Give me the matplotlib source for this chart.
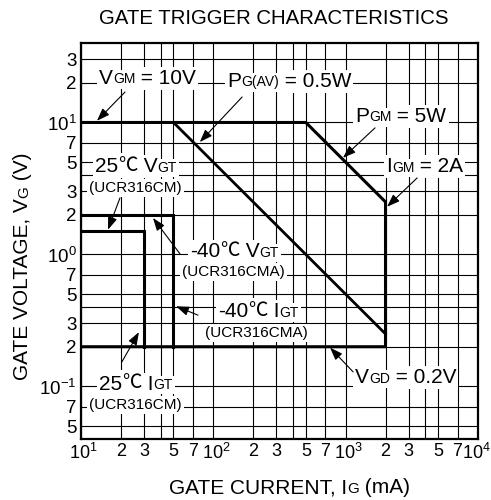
import matplotlib
matplotlib.use('Agg')
import matplotlib.pyplot as plt
from matplotlib.ticker import FixedLocator, FuncFormatter
from matplotlib.transforms import ScaledTranslation

plt.rcParams['font.family'] = ['Liberation Sans', 'DejaVu Sans']

# rated area outline (gate current in mA, gate voltage in V)
bound_i = [10, 500, 2000, 2000, 10]
bound_v = [10, 10, 2.5, 0.2, 0.2]
# average gate power PG(AV) = 0.5W
pav_i = [50, 2000]
pav_v = [10, 0.25]
# 25C trigger limits (UCR316CM)
gt25_i = [10, 30, 30]
gt25_v = [1.5, 1.5, 0.2]
# -40C trigger limits (UCR316CMA)
gt40_i = [10, 50, 50]
gt40_v = [2.0, 2.0, 0.2]

x_major = [10, 100, 1000, 10000]
y_major = [0.1, 1, 10]
mantissas = [2, 3, 4, 5, 7]

BIG, SMALL, PAREN = 15, 10, 11
CJK = ['Noto Sans CJK JP', 'DejaVu Sans']
DESC = 0.21

fig = plt.figure(figsize=(4.91, 5), dpi=100)
ax = fig.add_axes([81 / 491, 61 / 500, 397 / 491, 396 / 500])
ax.set_xscale('log')
ax.set_yscale('log')
ax.set_xlim(10, 1e4)
ax.set_ylim(0.04, 40)

x_minor = [m * d for d in [10, 100, 1000] for m in mantissas]
y_minor = [m * d for d in [0.01, 0.1, 1, 10] for m in mantissas]
y_minor = [v for v in y_minor if 0.04 < v < 40]
ax.xaxis.set_major_locator(FixedLocator(x_major))
ax.xaxis.set_minor_locator(FixedLocator(x_minor))
ax.yaxis.set_major_locator(FixedLocator(y_major))
ax.yaxis.set_minor_locator(FixedLocator(y_minor))


def dec_fmt(v, pos):
    import math
    e = int(round(math.log10(v)))
    return r'$\mathdefault{10^{%d}}$' % e


def minor_fmt(v, pos):
    import math
    m = round(v / 10 ** math.floor(math.log10(v) + 1e-9))
    return '' if m == 4 else str(int(m))


for axis in (ax.xaxis, ax.yaxis):
    axis.set_major_formatter(FuncFormatter(dec_fmt))
    axis.set_minor_formatter(FuncFormatter(minor_fmt))
ax.tick_params(which='both', length=0, labelsize=13.5)
ax.tick_params(axis='x', which='x' and 'both', pad=3)
ax.tick_params(axis='x', which='both', labelsize=13)
ax.tick_params(axis='y', which='both', pad=3)
ax.grid(which='both', color='k', lw=0.8)
for s in ax.spines.values():
    s.set_linewidth(1.6)

# "10" sits on its line with the exponent hanging right; last one kept inside
for tick, dx in zip(ax.xaxis.get_major_ticks(), [2.5, 2.5, 2.5, -2.0]):
    shift = ScaledTranslation(dx / 100, 0, fig.dpi_scale_trans)
    tick.label1.set_transform(tick.label1.get_transform() + shift)

lw = 2.2
ax.plot(bound_i, bound_v, color='k', lw=lw, zorder=3, solid_joinstyle='miter')
ax.plot(pav_i, pav_v, color='k', lw=2.0, zorder=3)
ax.plot(gt25_i, gt25_v, color='k', lw=lw, zorder=3, solid_joinstyle='miter')
ax.plot(gt40_i, gt40_v, color='k', lw=lw, zorder=3, solid_joinstyle='miter')

box = dict(facecolor='white', edgecolor='none', pad=1.5)


def rich(x, y, parts, trans=None, rot=0):
    # parts: (text, size, family) drawn one after another on one baseline
    prev = None
    pieces = []
    for txt, size, fam in parts:
        kw = dict(fontsize=size, family=fam, bbox=box, zorder=4, rotation=rot,
                  color='white')
        if prev is None:
            t = ax.text(x, y, txt, ha='right' if rot else 'left',
                        va='bottom' if rot else 'baseline',
                        transform=trans or ax.transData, clip_on=False, **kw)
        else:
            off = DESC * (psize - size)
            if rot:
                t = ax.annotate(txt, xy=(1, 1), xycoords=prev, xytext=(-off, 0),
                                textcoords='offset points', ha='right',
                                va='bottom', annotation_clip=False, **kw)
            else:
                t = ax.annotate(txt, xy=(1, 0), xycoords=prev, xytext=(0, off),
                                textcoords='offset points', ha='left',
                                va='bottom', annotation_clip=False, **kw)
        pieces.append((t, txt, size, fam))
        prev, psize = t, size
    # redraw the glyphs above all white boxes
    for t, txt, size, fam in pieces:
        ax.annotate(txt, xy=(0, 0), xycoords=t, ha='left', va='bottom',
                    fontsize=size, family=fam, zorder=6, rotation=rot,
                    annotation_clip=False)


def arrow(tail, head):
    ax.annotate('', xy=head, xytext=tail, zorder=6,
                arrowprops=dict(arrowstyle='-|>,head_length=0.55,head_width=0.2',
                                color='k', lw=0.8, mutation_scale=14,
                                shrinkA=0, shrinkB=0))


LS = ['Liberation Sans', 'DejaVu Sans']

rich(13.7, 19.6, [('V', BIG, LS), ('GM', SMALL, LS), (' = 10V', BIG, LS)])
arrow((21.5, 17.0), (13.2, 10.3))

rich(127, 18.6, [('P', BIG, LS), ('G(AV)', SMALL, LS), (' = 0.5W', BIG, LS)])
arrow((165, 15.6), (79, 7.1))

rich(1178, 10.1, [('P', BIG, LS), ('GM', SMALL, LS), (' = 5W', BIG, LS)])
arrow((1667, 9.1), (955, 5.4))

rich(2018, 4.2, [('I', BIG, LS), ('GM', SMALL, LS), (' = 2A', BIG, LS)])
arrow((3467, 3.8), (2056, 2.3))

rich(12.8, 4.2, [('25', BIG, LS), ('℃', 14, CJK), (' V', BIG, LS), ('GT', SMALL, LS)])
rich(11.5, 2.97, [('(UCR316CM)', PAREN, LS)])
arrow((19.7, 2.68), (16.0, 1.54))

rich(66.7, 0.955, [('-40', BIG, LS), ('℃', 14, CJK), (' V', BIG, LS), ('GT', SMALL, LS)])
rich(58, 0.689, [('(UCR316CMA)', PAREN, LS)])
arrow((56, 1.01), (35, 1.89))

rich(109, 0.336, [('-40', BIG, LS), ('℃', 14, CJK), (' I', BIG, LS), ('GT', SMALL, LS)])
rich(86.5, 0.238, [('(UCR316CMA)', PAREN, LS)])
arrow((76.6, 0.347), (52.3, 0.405))

rich(13.7, 0.0945, [('25', BIG, LS), ('℃', 14, CJK), (' I', BIG, LS), ('GT', SMALL, LS)])
rich(11.5, 0.0671, [('(UCR316CM)', PAREN, LS)])
arrow((20.4, 0.154), (27.4, 0.258))

rich(1178, 0.106, [('V', BIG, LS), ('GD', SMALL, LS), (' = 0.2V', BIG, LS)])
arrow((1138, 0.129), (762, 0.197))

# title and axis labels
fig.text(273.5 / 491, 1 - 24 / 500, 'GATE TRIGGER CHARACTERISTICS',
         ha='center', va='baseline', fontsize=14.7)

box = dict(facecolor='none', edgecolor='none', pad=0)
rich(169 / 491, 7 / 500, [('GATE CURRENT, I', BIG, LS), ('G', SMALL + 1, LS),
                          (' (mA)', BIG, LS)], trans=fig.transFigure)
rich(32 / 491, 1 - 380 / 500, [('GATE VOLTAGE, V', BIG, LS), ('G', SMALL + 1, LS),
                               (' (V)', BIG, LS)], trans=fig.transFigure, rot=90)

fig.savefig('out.png', dpi=100)
